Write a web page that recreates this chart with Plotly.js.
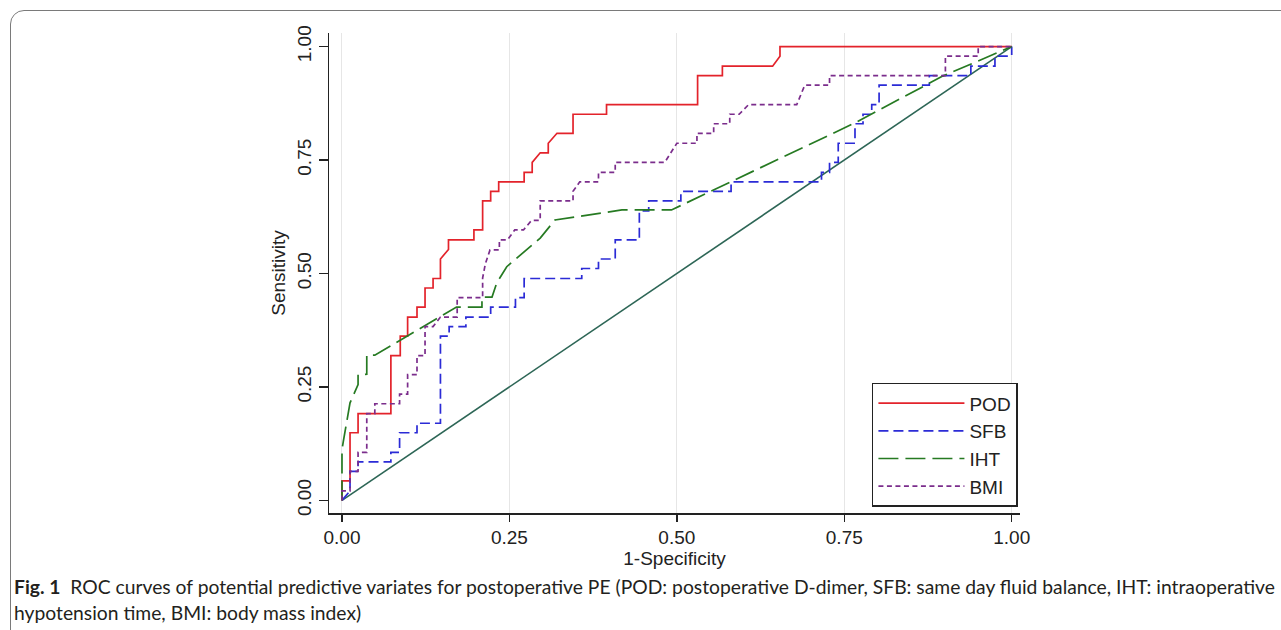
<!DOCTYPE html>
<html>
<head>
<meta charset="utf-8">
<script src="https://cdn.plot.ly/plotly-3.0.1.min.js"></script>
<style>
  html, body { margin: 0; padding: 0; background: #ffffff; overflow: hidden; }
  #wrap { position: relative; width: 1281px; height: 630px; }
  #frame { position: absolute; left: 10px; top: 10px; width: 1320px; height: 700px;
           border: 1px solid #7a7a7a; border-radius: 14px; pointer-events: none; }
  #chart { position: absolute; left: 0; top: 0; width: 1281px; height: 630px; }
</style>
</head>
<body>
<div id="wrap">
  <div id="chart"></div>
  <div id="frame"></div>
</div>
<script>
// ---- data ----
const tickVals = [0, 0.25, 0.5, 0.75, 1];
const tickText = ['0.00', '0.25', '0.50', '0.75', '1.00'];

const seriesNames = ['POD', 'SFB', 'IHT', 'BMI'];

const podX = [0,0,0.012,0.012,0.024,0.024,0.073,0.073,0.087,0.087,0.098,0.098,0.112,0.112,0.124,0.124,0.136,0.136,0.147,0.147,0.159,0.159,0.197,0.197,0.210,0.210,0.222,0.222,0.234,0.234,0.272,0.272,0.284,0.284,0.296,0.308,0.308,0.321,0.345,0.345,0.395,0.395,0.531,0.531,0.568,0.568,0.643,0.654,0.654,1];
const podY = [0,0.043,0.043,0.149,0.149,0.191,0.191,0.319,0.319,0.362,0.362,0.404,0.404,0.426,0.426,0.468,0.468,0.489,0.489,0.532,0.553,0.574,0.574,0.596,0.596,0.660,0.660,0.681,0.681,0.702,0.702,0.723,0.723,0.745,0.766,0.766,0.787,0.809,0.809,0.851,0.851,0.872,0.872,0.936,0.936,0.957,0.957,0.979,1,1];

const sfbX = [0,0.012,0.012,0.024,0.024,0.073,0.073,0.086,0.086,0.112,0.112,0.147,0.147,0.160,0.160,0.185,0.185,0.222,0.222,0.259,0.259,0.272,0.272,0.358,0.358,0.383,0.383,0.408,0.408,0.444,0.444,0.458,0.458,0.506,0.506,0.581,0.581,0.716,0.716,0.728,0.728,0.741,0.741,0.766,0.766,0.778,0.778,0.791,0.791,0.802,0.802,0.877,0.877,0.939,0.939,0.975,0.975,1,1];
const sfbY = [0,0.021,0.064,0.064,0.085,0.085,0.106,0.106,0.149,0.149,0.170,0.170,0.362,0.362,0.383,0.383,0.404,0.404,0.426,0.426,0.447,0.447,0.489,0.489,0.511,0.511,0.532,0.532,0.574,0.574,0.638,0.638,0.660,0.660,0.681,0.681,0.702,0.702,0.723,0.723,0.745,0.745,0.787,0.787,0.830,0.830,0.851,0.851,0.872,0.872,0.915,0.915,0.936,0.936,0.957,0.957,0.979,0.979,1];

const ihtX = [0,0,0.002,0.012,0.024,0.024,0.037,0.037,0.049,0.171,0.209,0.209,0.224,0.231,0.246,0.276,0.296,0.318,0.418,0.492,0.624,0.766,0.897,1];
const ihtY = [0,0.112,0.130,0.215,0.255,0.277,0.278,0.320,0.320,0.426,0.426,0.448,0.448,0.479,0.515,0.552,0.578,0.618,0.640,0.640,0.732,0.832,0.935,1];

const bmiX = [0,0,0.012,0.012,0.024,0.024,0.037,0.037,0.049,0.049,0.086,0.086,0.098,0.098,0.112,0.112,0.124,0.124,0.136,0.147,0.172,0.172,0.210,0.210,0.214,0.221,0.235,0.235,0.247,0.258,0.271,0.283,0.296,0.296,0.345,0.345,0.355,0.383,0.383,0.408,0.408,0.482,0.500,0.530,0.530,0.555,0.555,0.579,0.579,0.593,0.607,0.679,0.691,0.728,0.728,0.901,0.901,0.950,0.950,1];
const bmiY = [0,0.021,0.021,0.064,0.064,0.106,0.106,0.191,0.191,0.213,0.213,0.234,0.234,0.277,0.277,0.319,0.319,0.383,0.383,0.404,0.404,0.447,0.447,0.490,0.521,0.552,0.552,0.574,0.574,0.596,0.596,0.617,0.617,0.660,0.660,0.681,0.702,0.702,0.723,0.723,0.745,0.745,0.787,0.787,0.809,0.809,0.830,0.830,0.851,0.851,0.872,0.872,0.915,0.915,0.936,0.936,0.979,0.979,1,1];

const refX = [0, 1];
const refY = [0, 1];

const captionLine1 = '<b>Fig. 1</b>&nbsp;&nbsp;ROC curves of potential predictive variates for postoperative PE (POD: postoperative D-dimer, SFB: same day fluid balance, IHT: intraoperative';
const captionLine2 = 'hypotension time, BMI: body mass index)';

// ---- chart ----
const axisFont = {family: 'Liberation Sans, Arial, sans-serif', size: 19, color: '#222222'};
const captionFont = {family: 'Lato, Open Sans, sans-serif', size: 19.3, color: '#231f20'};

const traces = [
  {x: refX, y: refY, mode: 'lines', showlegend: false, hoverinfo: 'skip',
   line: {color: '#2d6656', width: 1.6}},
  {x: podX, y: podY, name: seriesNames[0], mode: 'lines',
   line: {color: '#e3232b', width: 1.7}},
  {x: sfbX, y: sfbY, name: seriesNames[1], mode: 'lines',
   line: {color: '#2b2bd6', width: 1.7, dash: '10px,5px'}},
  {x: ihtX, y: ihtY, name: seriesNames[2], mode: 'lines',
   line: {color: '#267a22', width: 1.7, dash: '20px,7px'}},
  {x: bmiX, y: bmiY, name: seriesNames[3], mode: 'lines',
   line: {color: '#7b2d8c', width: 1.7, dash: '5px,3.5px'}}
];

const layout = {
  width: 1281, height: 630,
  margin: {l: 329, r: 261, t: 33, b: 117, pad: 0},
  paper_bgcolor: 'rgba(0,0,0,0)', plot_bgcolor: '#ffffff',
  showlegend: true,
  font: axisFont,
  xaxis: {
    range: [-0.0194, 1.0124], tickvals: tickVals, ticktext: tickText,
    showgrid: true, gridcolor: '#e6e6e6', gridwidth: 1, zeroline: false,
    showline: true, linecolor: '#222222', linewidth: 1.5,
    ticks: 'outside', ticklen: 7, tickwidth: 1.5, tickcolor: '#222222',
    tickfont: axisFont,
    title: {text: '1-Specificity', font: axisFont, standoff: 2}
  },
  yaxis: {
    range: [-0.0278, 1.030], tickvals: tickVals, ticktext: tickText,
    showgrid: false, zeroline: false,
    showline: true, linecolor: '#222222', linewidth: 1.5,
    ticks: 'outside', ticklen: 9, tickwidth: 1.5, tickcolor: '#222222',
    tickangle: -90, tickfont: axisFont,
    title: {text: 'Sensitivity', font: axisFont, standoff: 3}
  },
  legend: {
    x: 0.997, xanchor: 'right', y: 0.013, yanchor: 'bottom',
    bgcolor: '#ffffff', bordercolor: '#222222', borderwidth: 1.5,
    font: axisFont, itemwidth: 86, tracegroupgap: 0
  },
  annotations: [
    {text: captionLine1, xref: 'paper', yref: 'paper', x: -0.4588, y: -0.154,
     xanchor: 'left', yanchor: 'middle', showarrow: false, align: 'left',
     font: captionFont},
    {text: captionLine2, xref: 'paper', yref: 'paper', x: -0.4588, y: -0.2083,
     xanchor: 'left', yanchor: 'middle', showarrow: false, align: 'left',
     font: captionFont}
  ]
};

Plotly.newPlot('chart', traces, layout, {staticPlot: true, displayModeBar: false});
</script>
</body>
</html>
